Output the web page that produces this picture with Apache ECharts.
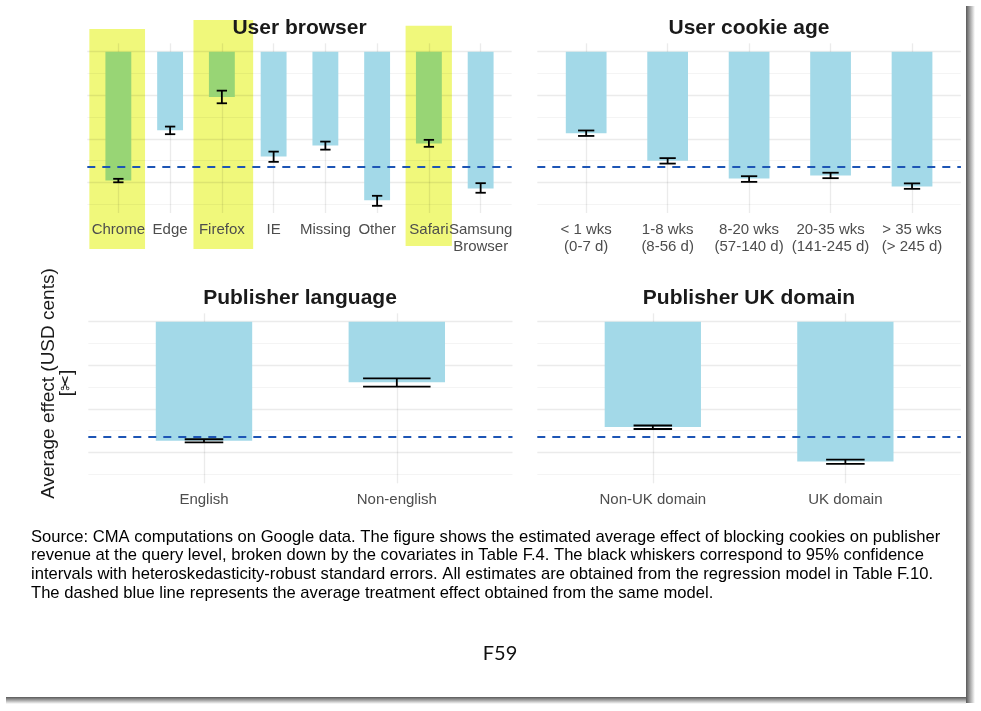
<!DOCTYPE html>
<html>
<head>
<meta charset="utf-8">
<script src="https://cdn.jsdelivr.net/npm/echarts@6/dist/echarts.min.js"></script>
<style>
  html, body { margin: 0; padding: 0; background: #fff; }
  #main { width: 981px; height: 711px; background: #fff; }
</style>
</head>
<body>
<div id="main"></div>
<script>
// values (the y scale is redacted, one unit = one gridline)
const browserCats = ['Chrome', 'Edge', 'Firefox', 'IE', 'Missing', 'Other', 'Safari', 'Samsung\nBrowser'];
const browserEst = [-5.92, -3.61, -2.08, -4.82, -4.31, -6.83, -4.22, -6.28];
const browserLow = [-6.00, -3.79, -2.37, -5.06, -4.50, -7.08, -4.37, -6.48];
const browserHigh = [-5.84, -3.44, -1.79, -4.59, -4.13, -6.62, -4.05, -6.04];
const browserHighlight = ['Chrome', 'Firefox', 'Safari'];

const cookieCats = ['< 1 wks\n(0-7 d)', '1-8 wks\n(8-56 d)', '8-20 wks\n(57-140 d)', '20-35 wks\n(141-245 d)', '> 35 wks\n(> 245 d)'];
const cookieEst = [-3.75, -5.01, -5.82, -5.69, -6.19];
const cookieLow = [-3.87, -5.14, -5.98, -5.81, -6.30];
const cookieHigh = [-3.62, -4.89, -5.72, -5.56, -6.05];

const langCats = ['English', 'Non-english'];
const langEst = [-5.46, -2.78];
const langLow = [-5.53, -2.98];
const langHigh = [-5.39, -2.60];

const ukCats = ['Non-UK domain', 'UK domain'];
const ukEst = [-4.83, -6.41];
const ukLow = [-4.92, -6.52];
const ukHigh = [-4.76, -6.32];

const avgEffect = -5.27;
const majorTicks = [-6, -4, -2, 0];
const minorTicks = [-7, -5, -3, -1];
const panelTitles = ['User browser', 'User cookie age', 'Publisher language', 'Publisher UK domain'];

const captionLines = [
    'Source: CMA computations on Google data. The figure shows the estimated average effect of blocking cookies on publisher',
    'revenue at the query level, broken down by the covariates in Table F.4. The black whiskers correspond to 95% confidence',
    'intervals with heteroskedasticity-robust standard errors. All estimates are obtained from the regression model in Table F.10.',
    'The dashed blue line represents the average treatment effect obtained from the same model.'
];

const FONT = '"Liberation Sans", Arial, sans-serif';
const BLUE = '#a3d9e8';
const GREEN = '#98d575';
const YELLOW = '#f0f87b';
const Y_MIN = -7.41, Y_MAX = 0.385;

// hand drawn highlighter boxes, pixel offsets from the category centre / zero line
const highlightBoxes = {
    'Chrome': [-29, 26.7, -22.7, 197.3],
    'Firefox': [-28.4, 31.3, -31.7, 197.3],
    'Safari': [-23.3, 23, -26, 194.3]
};

const panels = [
    {cats: browserCats, est: browserEst, low: browserLow, high: browserHigh,
        box: {left: 87.3, top: 43.3, width: 424.4, height: 169.7}, titleAt: [299.5, 28]},
    {cats: cookieCats, est: cookieEst, low: cookieLow, high: cookieHigh,
        box: {left: 537.3, top: 43.3, width: 423.6, height: 169.7}, titleAt: [749, 28]},
    {cats: langCats, est: langEst, low: langLow, high: langHigh,
        box: {left: 88.3, top: 313.3, width: 424.2, height: 170}, titleAt: [300, 298]},
    {cats: ukCats, est: ukEst, low: ukLow, high: ukHigh,
        box: {left: 537.3, top: 313.3, width: 423.6, height: 170}, titleAt: [749, 298]}
];

const grids = [], xAxes = [], yAxes = [], series = [];

panels.forEach(function (p, i) {
    const ticks = p.cats.map(function (c, k) { return k + 1; });
    grids.push(Object.assign({containLabel: false}, p.box));

    xAxes.push({
        gridIndex: i, type: 'value', min: 0.4, max: p.cats.length + 0.6,
        axisLine: {show: false},
        axisTick: {show: false, customValues: ticks},
        axisLabel: {
            customValues: ticks,
            formatter: function (v) { return p.cats[Math.round(v) - 1]; },
            color: '#4d4d4d', fontSize: 15, fontFamily: FONT, margin: 8, lineHeight: 17
        },
        splitLine: {show: true, lineStyle: {color: 'rgba(0,0,0,0.08)', width: 1.3}}
    });

    yAxes.push({
        gridIndex: i, type: 'value', min: Y_MIN, max: Y_MAX,
        axisLine: {show: false}, axisLabel: {show: false},
        axisTick: {show: false, customValues: majorTicks},
        splitLine: {show: true, lineStyle: {color: 'rgba(0,0,0,0.08)', width: 1.3}}
    });
    yAxes.push({
        gridIndex: i, type: 'value', min: Y_MIN, max: Y_MAX,
        axisLine: {show: false}, axisLabel: {show: false},
        axisTick: {show: false, customValues: minorTicks},
        splitLine: {show: true, lineStyle: {color: 'rgba(0,0,0,0.045)', width: 1}}
    });

    series.push({
        type: 'bar', xAxisIndex: i, yAxisIndex: 2 * i, barWidth: '50%', z: 2,
        silent: true,
        data: p.est.map(function (v, k) {
            const hl = i === 0 && browserHighlight.indexOf(p.cats[k]) >= 0;
            return {value: [k + 1, v], itemStyle: {color: hl ? GREEN : BLUE}};
        }),
        markLine: {
            silent: true, symbol: 'none', label: {show: false},
            lineStyle: {color: '#1d55b5', width: 2.2, type: [8, 7]},
            data: [{yAxis: avgEffect}]
        }
    });

    series.push({
        type: 'custom', xAxisIndex: i, yAxisIndex: 2 * i, z: 4, clip: false, silent: true,
        data: p.low.map(function (l, k) { return [k + 1, l, p.high[k]]; }),
        renderItem: function (params, api) {
            const x = api.value(0);
            const lo = api.coord([x, api.value(1)]);
            const hi = api.coord([x, api.value(2)]);
            const capW = p.cats[x - 1] === 'Non-english' ? 0.35 : 0.2;
            const half = api.size([capW, 0])[0] / 2;
            const st = {stroke: '#000', lineWidth: 1.8};
            return {type: 'group', children: [
                {type: 'line', shape: {x1: lo[0], y1: lo[1], x2: hi[0], y2: hi[1]}, style: st},
                {type: 'line', shape: {x1: lo[0] - half, y1: lo[1], x2: lo[0] + half, y2: lo[1]}, style: st},
                {type: 'line', shape: {x1: hi[0] - half, y1: hi[1], x2: hi[0] + half, y2: hi[1]}, style: st}
            ]};
        }
    });
});

// yellow highlighter marks behind the browser panel
series.push({
    type: 'custom', xAxisIndex: 0, yAxisIndex: 0, z: -1, clip: false, silent: true,
    data: browserHighlight.map(function (c) { return [browserCats.indexOf(c) + 1, 0]; }),
    renderItem: function (params, api) {
        const x = api.value(0);
        const c = api.coord([x, 0]);
        const b = highlightBoxes[browserCats[x - 1]];
        return {
            type: 'rect',
            shape: {x: c[0] + b[0], y: c[1] + b[2], width: b[1] - b[0], height: b[3] - b[2]},
            style: {fill: YELLOW}
        };
    }
});

const graphics = panelTitles.map(function (t, i) {
    return {
        type: 'text', x: panels[i].titleAt[0], y: panels[i].titleAt[1], z: 10,
        style: {text: t, font: 'bold 21px ' + FONT, fill: '#1a1a1a', textAlign: 'center', textVerticalAlign: 'middle'}
    };
});
graphics.push({
    type: 'text', x: 49, y: 383.5, rotation: Math.PI / 2, z: 10,
    style: {text: 'Average effect (USD cents)', font: '19px ' + FONT, fill: '#1a1a1a', textAlign: 'center', textVerticalAlign: 'middle'}
});
graphics.push({
    type: 'text', x: 66.5, y: 383, rotation: Math.PI / 2, z: 10,
    style: {text: '[\u2702]', font: '19px ' + FONT, fill: '#1a1a1a', textAlign: 'center', textVerticalAlign: 'middle'}
});
graphics.push({
    type: 'text', x: 31, y: 527.5, z: 10,
    style: {text: captionLines.join('\n'), font: '16.6px ' + FONT, lineHeight: 18.9, fill: '#000', textAlign: 'left', textVerticalAlign: 'top'}
});
graphics.push({
    type: 'text', x: 500, y: 654, z: 10,
    style: {text: 'F59', font: '20px Lato, "Open Sans", sans-serif', fill: '#111', textAlign: 'center', textVerticalAlign: 'middle'}
});
// page edge shadow of the scanned document
graphics.push({
    type: 'rect', z: 10, shape: {x: 966, y: 6, width: 9, height: 697},
    style: {fill: new echarts.graphic.LinearGradient(0, 0, 1, 0, [
        {offset: 0, color: 'rgba(60,60,60,0.85)'}, {offset: 1, color: 'rgba(60,60,60,0)'}])}
});
graphics.push({
    type: 'rect', z: 10, shape: {x: 6, y: 697, width: 960, height: 7},
    style: {fill: new echarts.graphic.LinearGradient(0, 0, 0, 1, [
        {offset: 0, color: 'rgba(60,60,60,0.85)'}, {offset: 1, color: 'rgba(60,60,60,0)'}])}
});

let chart = echarts.init(document.getElementById('main'));
chart.setOption({
    animation: false,
    backgroundColor: '#fff',
    grid: grids,
    xAxis: xAxes,
    yAxis: yAxes,
    series: series,
    graphic: graphics
});
</script>
</body>
</html>
